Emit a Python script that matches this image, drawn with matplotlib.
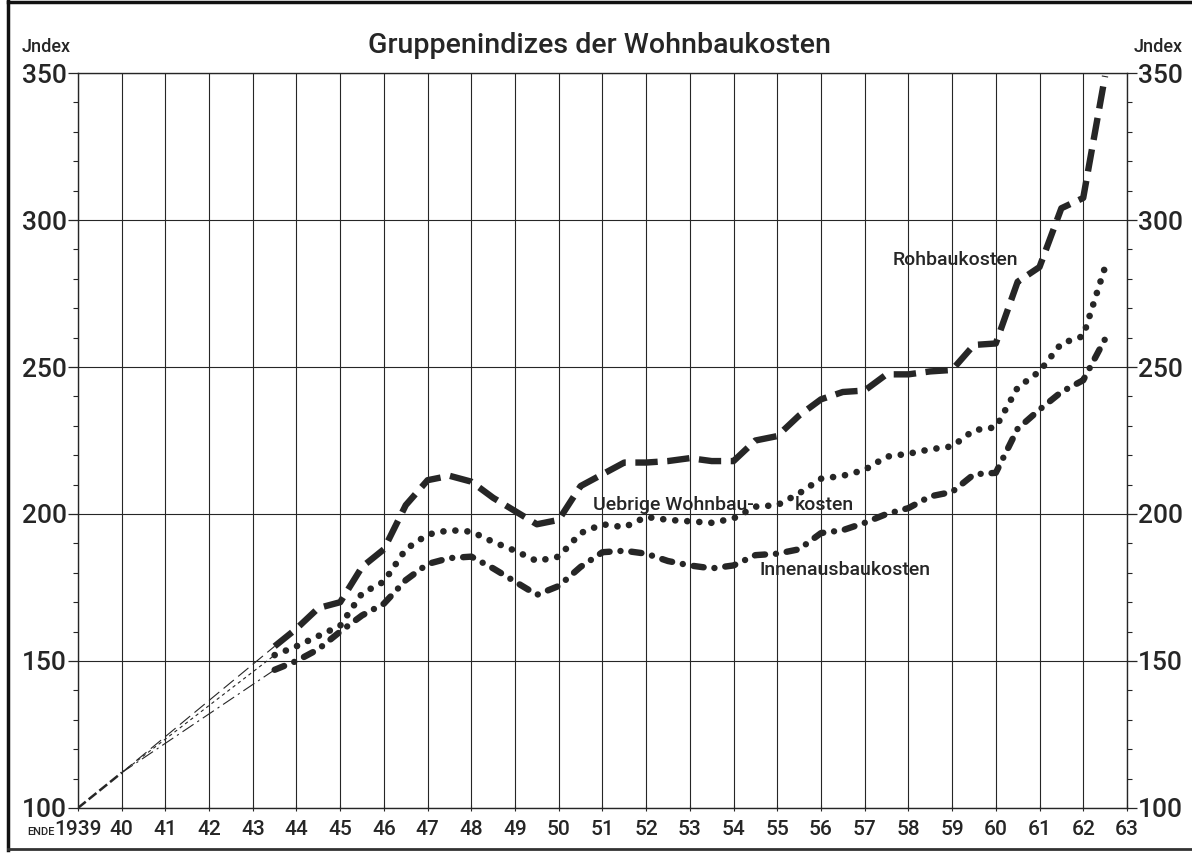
import matplotlib
matplotlib.use("Agg")
import matplotlib.pyplot as plt
from matplotlib.lines import Line2D
from matplotlib.ticker import MultipleLocator

plt.rcParams['font.family'] = ['Roboto', 'DejaVu Sans']
plt.rcParams['font.weight'] = 'medium'

# half-year readings 1943.5 .. 1962.5
years = [1943.5, 1944, 1944.5, 1945, 1945.5, 1946, 1946.5, 1947, 1947.5, 1948,
         1948.5, 1949, 1949.5, 1950, 1950.5, 1951, 1951.5, 1952, 1952.5, 1953,
         1953.5, 1954, 1954.5, 1955, 1955.5, 1956, 1956.5, 1957, 1957.5, 1958,
         1958.5, 1959, 1959.5, 1960, 1960.5, 1961, 1961.5, 1962, 1962.5]

rohbau = [155, 161, 168, 170, 182, 188, 203, 211.5, 213, 211,
          205.5, 201, 196.5, 198, 209.5, 213.5, 217.5, 217.5, 218, 219,
          218, 218, 225, 226.5, 233.5, 239, 241.5, 242, 247.5, 247.5,
          248.5, 249, 257.5, 258, 279, 284, 304, 307.5, 349]

uebrige = [152, 155, 158.5, 162, 173, 177, 188, 193, 194.5, 194,
           190.5, 187.5, 184, 185.5, 193.5, 196.5, 195.5, 199, 198, 197.5,
           197, 198.5, 202.5, 203, 207, 212, 213, 215, 219.5, 220.5,
           222, 223, 228.5, 229.5, 243, 248.5, 258, 260.5, 284]

innenausbau = [147, 150, 154, 160, 165.5, 169.5, 177.5, 183, 185, 185.5,
               181.5, 177, 172.5, 175.5, 182, 187, 187.5, 186.5, 184, 182.5,
               181.5, 182.5, 186, 186.5, 188, 193.5, 194.5, 197, 200, 202,
               206, 207.5, 213.5, 214, 229, 235.5, 241.5, 245.5, 259.5]

# common start and the thin interpolation lines of the war years
start_years = [1939, 1940]
start_values = [100, 112]
early_years = [1940, 1943.5]
early_rohbau = [112, 155]
early_uebrige = [112, 152]
early_innen = [112, 147]

x_ticks = list(range(1939, 1964))
x_labels = ['1939'] + [str(y % 100) for y in x_ticks[1:]]
y_ticks = [100, 150, 200, 250, 300, 350]

ink = '#262626'

fig = plt.figure(figsize=(11.92, 8.55), dpi=100)
ax = fig.add_axes([0.0654, 0.055, 0.88, 0.8596])

ax.set_xlim(1939, 1963)
ax.set_ylim(100, 350)

# heavy lines
ax.plot(years, rohbau, color=ink, lw=4.6, dashes=(3.5, 1.5))
ax.plot(years, uebrige, color=ink, lw=4.8, dashes=(0.01, 1.8),
        dash_capstyle='round')
ax.plot(years, innenausbau, color=ink, lw=4.6, dashes=(1.6, 1.7, 0.01, 1.7),
        dash_capstyle='round')

# thin early lines
ax.plot(start_years, start_values, color=ink, lw=1.8, dashes=(4, 1.5))
ax.plot(early_years, early_rohbau, color=ink, lw=0.8, dashes=(12, 5))
ax.plot(early_years, early_uebrige, color=ink, lw=0.8, dashes=(3, 3))
ax.plot(early_years, early_innen, color=ink, lw=0.8, dashes=(12, 4, 2, 4))

# series labels
lab = dict(fontsize=14, color=ink, va='center')
ax.text(1959.07, 286.4, 'Rohbaukosten', ha='center', **lab)
ax.text(1950.78, 203, 'Uebrige Wohnbau-', ha='left', **lab)
ax.text(1955.4, 203, 'kosten', ha='left', **lab)
ax.text(1954.6, 181, 'Innenausbaukosten', ha='left', **lab)

# axes, ticks and grid
ax.set_xticks(x_ticks)
ax.set_xticklabels(x_labels)
ax.set_yticks(y_ticks)
ax.yaxis.set_minor_locator(MultipleLocator(10))
ax.yaxis.set_ticks_position('both')
ax.tick_params(axis='y', which='major', direction='out', length=7, width=0.9,
               labelsize=19, pad=1, colors=ink, labelright=True)
ax.tick_params(axis='y', which='minor', direction='out', length=3.5, width=0.8,
               colors=ink)
ax.tick_params(axis='x', which='major', direction='inout', length=4, width=0.8,
               labelsize=15, pad=7, colors=ink)
ax.grid(True, which='major', color=ink, lw=0.8)
for side in ax.spines.values():
    side.set_color(ink)
    side.set_linewidth(1.0)

ax.text(-0.0225, -0.0325, 'ENDE', transform=ax.transAxes, fontsize=8,
        color=ink, ha='right', va='center')

fig.text(0.503, 0.947, 'Gruppenindizes der Wohnbaukosten', fontsize=20.5,
         color=ink, ha='center', va='center')
fig.text(0.0385, 0.945, 'Jndex', fontsize=13, color=ink, ha='center',
         va='center')
fig.text(0.9715, 0.945, 'Jndex', fontsize=13, color=ink, ha='center',
         va='center')

# frame around the sheet
fig.add_artist(Line2D([0.0065, 0.0065], [0.006, 1.0], transform=fig.transFigure,
                      color='#111111', lw=2.5))
fig.add_artist(Line2D([0.0065, 1.0], [0.998, 0.998], transform=fig.transFigure,
                      color='#111111', lw=2.5))
fig.add_artist(Line2D([0.0065, 1.0], [0.007, 0.007], transform=fig.transFigure,
                      color='#333333', lw=2.0))

fig.savefig('out.png', dpi=100)
